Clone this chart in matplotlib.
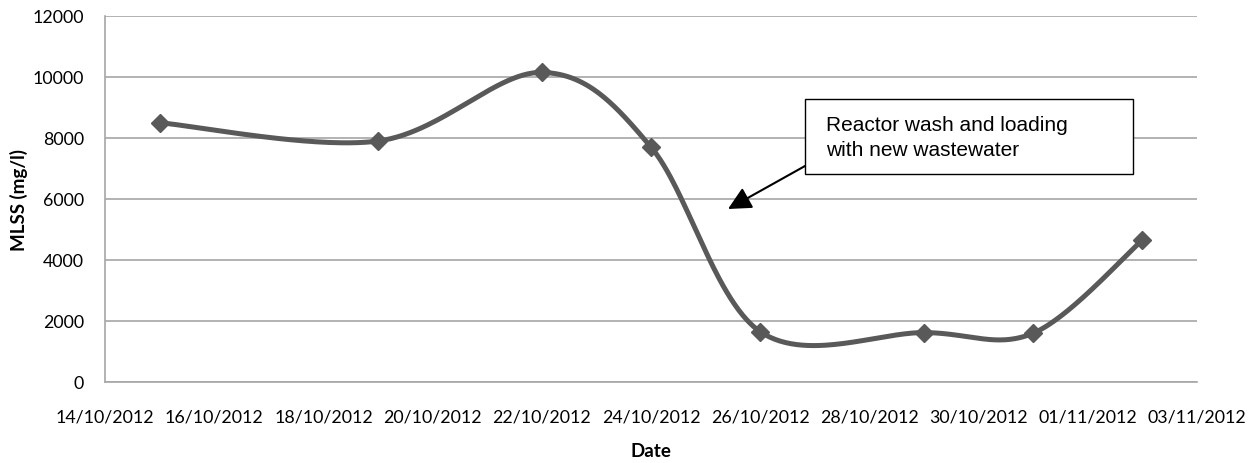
import matplotlib
matplotlib.use("Agg")
import matplotlib.pyplot as plt
import matplotlib.dates as mdates
import numpy as np
import pandas as pd

# MLSS measurements in the reactor
dates = ["2012-10-15", "2012-10-19", "2012-10-22", "2012-10-24",
         "2012-10-26", "2012-10-29", "2012-10-31", "2012-11-02"]
mlss = [8500, 7900, 10150, 7700, 1650, 1620, 1600, 4650]

x_start, x_end = "2012-10-14", "2012-11-03"
y_ticks = [0, 2000, 4000, 6000, 8000, 10000, 12000]
note = "Reactor wash and loading\nwith new wastewater"

LINE = "#595959"
GRID = "#a6a6a6"


def smooth(xs, ys, n=60):
    """Smoothed line through the points (cubic Bezier with Catmull-Rom tangents)."""
    px = np.r_[xs[0], xs, xs[-1]]
    py = np.r_[ys[0], ys, ys[-1]]
    out_x, out_y = [], []
    t = np.linspace(0, 1, n)
    for i in range(1, len(px) - 2):
        p0 = np.array([px[i], py[i]])
        p3 = np.array([px[i + 1], py[i + 1]])
        c1 = p0 + (np.array([px[i + 1], py[i + 1]]) - np.array([px[i - 1], py[i - 1]])) / 6
        c2 = p3 - (np.array([px[i + 2], py[i + 2]]) - np.array([px[i], py[i]])) / 6
        b = ((1 - t) ** 3)[:, None] * p0 + (3 * (1 - t) ** 2 * t)[:, None] * c1 \
            + (3 * (1 - t) * t ** 2)[:, None] * c2 + (t ** 3)[:, None] * p3
        out_x.extend(b[:, 0])
        out_y.extend(b[:, 1])
    return np.array(out_x), np.array(out_y)


d = mdates.date2num(pd.to_datetime(dates))
y = np.array(mlss, dtype=float)
sx, sy = smooth(d, y)

fig = plt.figure(figsize=(12.58, 4.64), dpi=100)
ax = fig.add_axes([0.0835, 0.1746, 0.868, 0.7888])

ax.plot(sx, sy, color=LINE, lw=3.6, solid_capstyle="round", zorder=3)
ax.plot(d, y, ls="none", marker="D", ms=9, color=LINE, zorder=4)

ax.set_xlim(mdates.date2num(pd.Timestamp(x_start)), mdates.date2num(pd.Timestamp(x_end)))
ax.set_ylim(0, 12000)
ax.set_xticks(mdates.date2num(pd.date_range(x_start, x_end, freq="2D")))
ax.xaxis.set_major_formatter(mdates.DateFormatter("%d/%m/%Y"))
ax.set_yticks(y_ticks)

ax.grid(axis="y", color=GRID, lw=1.2)
ax.set_axisbelow(True)
for side in ("top", "right"):
    ax.spines[side].set_visible(False)
for side in ("left", "bottom"):
    ax.spines[side].set_color(GRID)
    ax.spines[side].set_linewidth(1.2)
ax.tick_params(length=0, labelsize=12.8)
for lab in ax.get_xticklabels() + ax.get_yticklabels():
    lab.set_family("Lato")
ax.tick_params(axis="x", pad=19)
ax.tick_params(axis="y", pad=15)

ax.set_xlabel("Date", family="Lato", fontweight="bold", fontsize=13.5, va="center")
ax.set_ylabel("MLSS (mg/l)", family="Lato", fontweight="bold", fontsize=13.5, va="center")
ax.xaxis.set_label_coords(0.5, -0.188)
ax.yaxis.set_label_coords(-0.079, 0.5)

# annotation box and arrow (figure pixel coordinates)
W, H = 1258, 464
box = plt.Rectangle((805 / W, 1 - 175 / H), 328 / W, 75 / H, transform=fig.transFigure,
                    fill=True, facecolor="white", edgecolor="black", lw=1.0, zorder=5)
fig.add_artist(box)
fig.text(826 / W, 1 - 138 / H, note, family="Liberation Sans", fontsize=15,
         va="center", ha="left", linespacing=1.35, zorder=6)
fig.add_artist(matplotlib.patches.FancyArrowPatch(
    (805 / W, 1 - 167 / H), (728 / W, 1 - 210 / H), transform=fig.transFigure,
    arrowstyle="-|>,head_length=14,head_width=7", color="black", lw=1.5,
    shrinkA=0, shrinkB=0, zorder=6))

fig.savefig("out.png", dpi=100)
